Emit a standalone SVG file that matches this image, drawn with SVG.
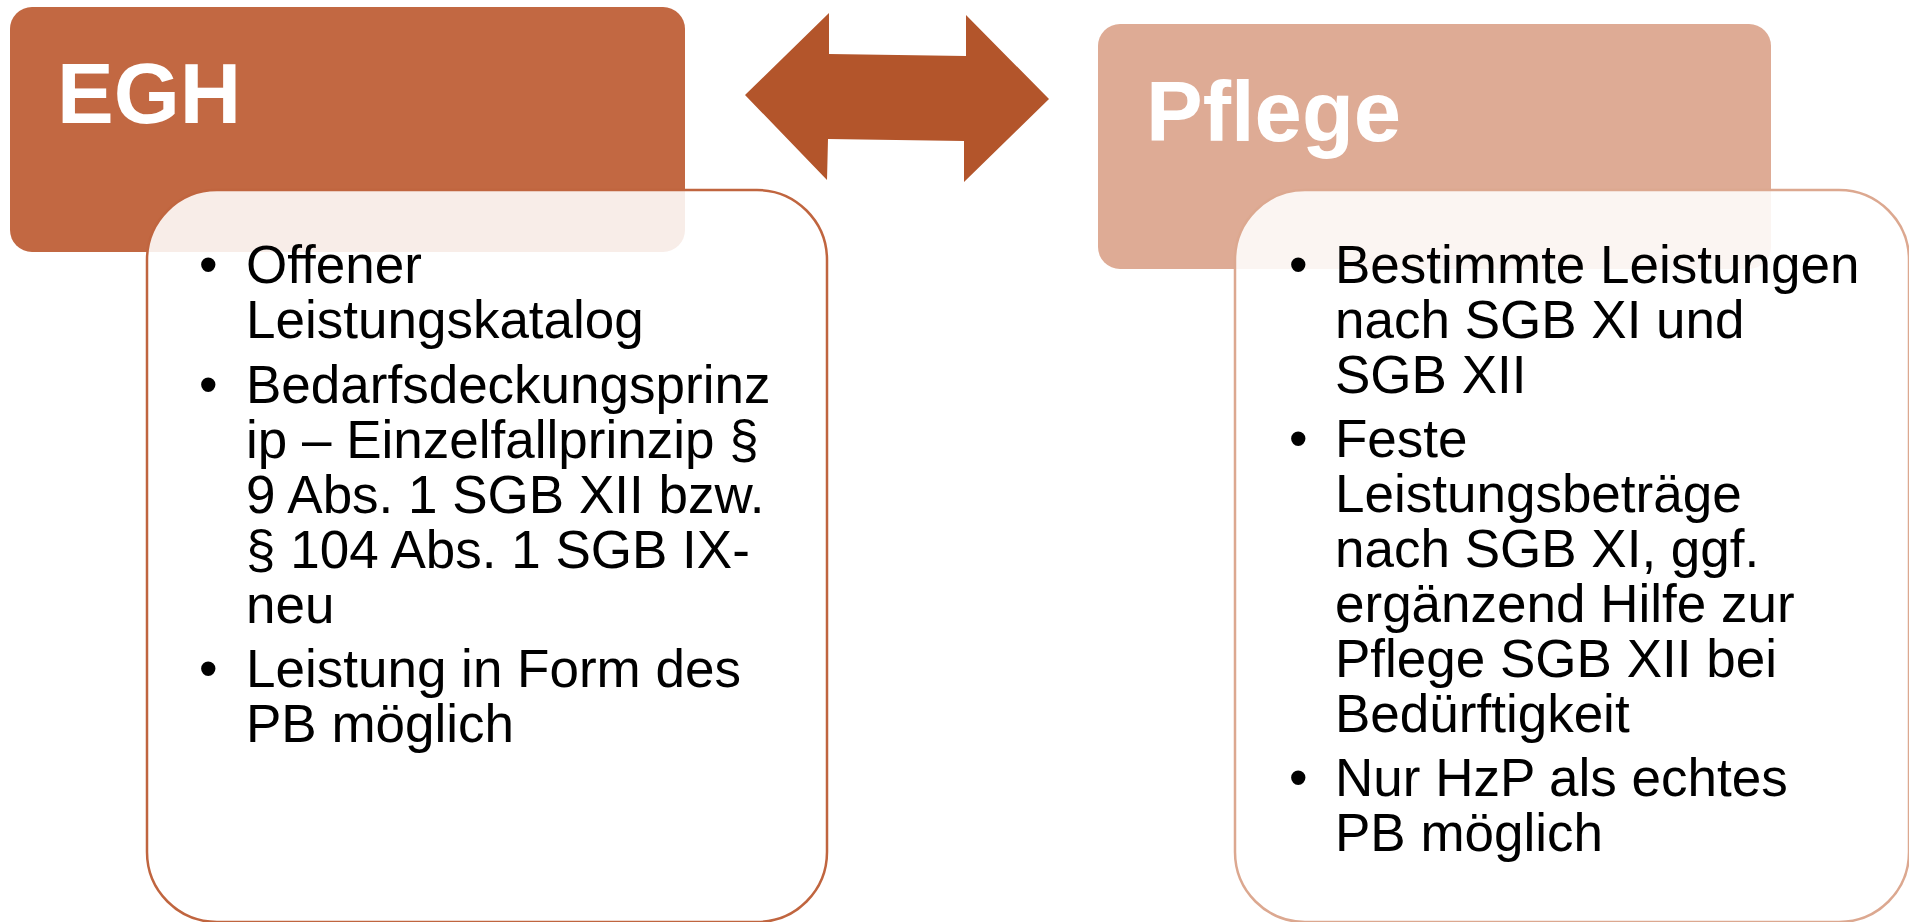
<svg xmlns="http://www.w3.org/2000/svg" width="1909" height="922" viewBox="0 0 1909 922">
<style>
.hdr{font-family:"Liberation Sans",Arial,sans-serif;font-weight:bold;font-size:85px;fill:#ffffff}
.txt{font-family:"Liberation Sans",Arial,sans-serif;font-size:53px;fill:#000000}
</style>
<rect width="1909" height="922" fill="#ffffff"/>
<g id="egh-header">
<rect x="10" y="7" width="675" height="245" rx="22" fill="#C26842"/>
<text class="hdr" x="57" y="123">EGH</text>
</g>
<g id="pflege-header">
<rect x="1098" y="24" width="673" height="245" rx="22" fill="#DEAB95"/>
<text class="hdr" x="1146" y="141">Pflege</text>
</g>
<g id="connectors">
<polygon points="745,95 829,13 829,54 966,56 966,15 1049,99 964,182 964,141 828,139 827,180" fill="#B3552B"/>
</g>
<g id="egh-content">
<rect x="147" y="190" width="680" height="732" rx="70" fill="#ffffff" fill-opacity="0.88" stroke="#C0653F" stroke-width="2.5"/>
<text class="txt">
<tspan x="199" y="283">•</tspan><tspan x="246" y="283">Offener</tspan>
<tspan x="246" y="338">Leistungskatalog</tspan>
<tspan x="199" y="403">•</tspan><tspan x="246" y="403">Bedarfsdeckungsprinz</tspan>
<tspan x="246" y="458">ip – Einzelfallprinzip §</tspan>
<tspan x="246" y="513">9 Abs. 1 SGB XII bzw.</tspan>
<tspan x="246" y="568">§ 104 Abs. 1 SGB IX-</tspan>
<tspan x="246" y="623">neu</tspan>
<tspan x="199" y="687">•</tspan><tspan x="246" y="687">Leistung in Form des</tspan>
<tspan x="246" y="742">PB möglich</tspan>
</text>
</g>
<g id="pflege-content">
<rect x="1235" y="190" width="674" height="732" rx="70" fill="#ffffff" fill-opacity="0.88" stroke="#DCA890" stroke-width="2.5"/>
<text class="txt">
<tspan x="1289" y="283">•</tspan><tspan x="1335" y="283">Bestimmte Leistungen</tspan>
<tspan x="1335" y="338">nach SGB XI und</tspan>
<tspan x="1335" y="393">SGB XII</tspan>
<tspan x="1289" y="457">•</tspan><tspan x="1335" y="457">Feste</tspan>
<tspan x="1335" y="512">Leistungsbeträge</tspan>
<tspan x="1335" y="567">nach SGB XI, ggf.</tspan>
<tspan x="1335" y="622">ergänzend Hilfe zur</tspan>
<tspan x="1335" y="677">Pflege SGB XII bei</tspan>
<tspan x="1335" y="732">Bedürftigkeit</tspan>
<tspan x="1289" y="796">•</tspan><tspan x="1335" y="796">Nur HzP als echtes</tspan>
<tspan x="1335" y="851">PB möglich</tspan>
</text>
</g>
</svg>
